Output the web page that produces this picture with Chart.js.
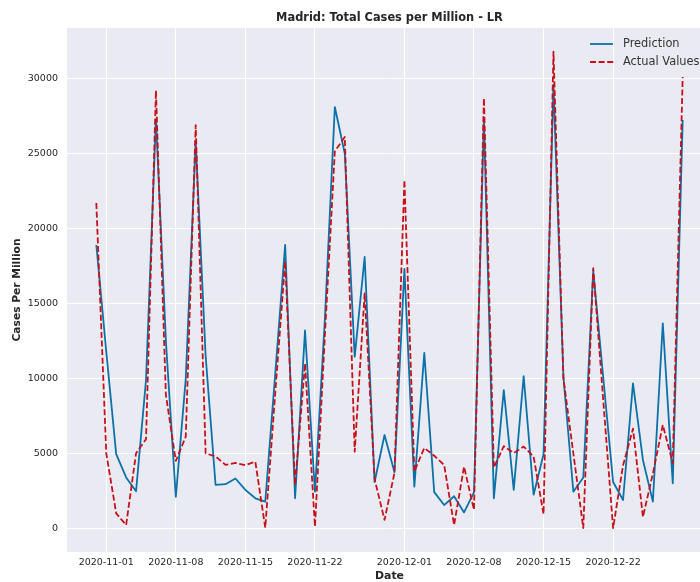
<!DOCTYPE html>
<html>
<head>
<meta charset="utf-8">
<script src="https://cdn.jsdelivr.net/npm/chart.js@4.4.1/dist/chart.umd.min.js"></script>
<style>
  html, body { margin: 0; padding: 0; background: #ffffff; overflow: hidden; width: 700px; height: 582px; }
  #wrap { width: 730px; height: 582px; position: relative; }
  canvas { display: block; }
</style>
</head>
<body>
<div id="wrap"><canvas id="c" width="730" height="582"></canvas></div>
<script>
// ---- data ----
const startDate = '2020-10-31';
const dates = [
  '2020-10-31','2020-11-01','2020-11-02','2020-11-03','2020-11-04','2020-11-05','2020-11-06','2020-11-07','2020-11-08','2020-11-09',
  '2020-11-10','2020-11-11','2020-11-12','2020-11-13','2020-11-14','2020-11-15','2020-11-16','2020-11-17','2020-11-18','2020-11-19',
  '2020-11-20','2020-11-21','2020-11-22','2020-11-23','2020-11-24','2020-11-25','2020-11-26','2020-11-27','2020-11-28','2020-11-29',
  '2020-11-30','2020-12-01','2020-12-02','2020-12-03','2020-12-04','2020-12-05','2020-12-06','2020-12-07','2020-12-08','2020-12-09',
  '2020-12-10','2020-12-11','2020-12-12','2020-12-13','2020-12-14','2020-12-15','2020-12-16','2020-12-17','2020-12-18','2020-12-19',
  '2020-12-20','2020-12-21','2020-12-22','2020-12-23','2020-12-24','2020-12-25','2020-12-26','2020-12-27','2020-12-28','2020-12-29'
];
const prediction = [
  18900, 11800, 4950, 3400, 2480, 9900, 27300, 12500, 2100, 10000,
  25800, 11500, 2900, 2950, 3330, 2570, 2010, 1790, 10300, 18900,
  2010, 13200, 2450, 14000, 28100, 25000, 11450, 18100, 3100, 6230,
  3750, 17300, 2790, 11700, 2420, 1560, 2150, 1070, 2400, 27300,
  2010, 9230, 2570, 10150, 2250, 4950, 29600, 10100, 2450, 3400,
  17200, 10100, 3100, 1900, 9680, 4570, 1790, 13680, 3010, 27230
];
const actual = [
  21700, 5010, 1010, 230, 5020, 5950, 29200, 8900, 4500, 6120,
  26900, 5010, 4800, 4240, 4370, 4220, 4450, 50, 9000, 17800,
  2900, 11000, 130, 12900, 25150, 26100, 5120, 15680, 3300, 570,
  3700, 23230, 3790, 5370, 4850, 4230, 230, 4120, 1250, 28700,
  4060, 5490, 5030, 5460, 4790, 950, 31790, 10000, 5000, 30,
  17350, 8600, 20, 4200, 6650, 770, 3650, 6900, 4370, 30100
];
const xTickLabels = ['2020-11-01','2020-11-08','2020-11-15','2020-11-22','2020-12-01','2020-12-08','2020-12-15','2020-12-22'];
const yTickValues = [0, 5000, 10000, 15000, 20000, 25000, 30000];
const seriesNames = ['Prediction', 'Actual Values'];
const titleText = 'Madrid: Total Cases per Million - LR';
const xAxisTitle = 'Date';
const yAxisTitle = 'Cases Per Million';

// ---- helpers ----
const DAY = 86400000;
const t0 = Date.parse(startDate + 'T00:00:00Z');
const dayIndex = s => Math.round((Date.parse(s + 'T00:00:00Z') - t0) / DAY);
const xTickPos = xTickLabels.map(dayIndex);

const BLUE = '#0a72a8';
const RED = '#c8101a';
const TXT = '#262626';
const FONT = "'DejaVu Sans', 'Liberation Sans', sans-serif";
const LW = 1.8;
const DASH = [6, 2.6];

const overlay = {
  id: 'overlay',
  beforeDraw(chart) {
    const { ctx, chartArea: a } = chart;
    ctx.save();
    ctx.fillStyle = '#ffffff';
    ctx.fillRect(0, 0, chart.width, chart.height);
    ctx.fillStyle = '#eaeaf2';
    ctx.fillRect(a.left, a.top, a.right - a.left, a.bottom - a.top);
    ctx.restore();
  },
  afterDraw(chart) {
    const { ctx, chartArea: a } = chart;
    ctx.save();
    // title
    ctx.fillStyle = TXT;
    ctx.font = "bold 11.4px " + FONT;
    ctx.textAlign = 'center';
    ctx.textBaseline = 'middle';
    ctx.fillText(titleText, (a.left + a.right) / 2, 18);
    // legend
    const lx0 = 590, lx1 = 613, tx = 623;
    const rows = [44, 62];
    ctx.font = "11.4px " + FONT;
    ctx.textAlign = 'left';
    ctx.lineWidth = LW;
    ctx.strokeStyle = BLUE;
    ctx.setLineDash([]);
    ctx.beginPath(); ctx.moveTo(lx0, rows[0]); ctx.lineTo(lx1, rows[0]); ctx.stroke();
    ctx.strokeStyle = RED;
    ctx.setLineDash(DASH);
    ctx.beginPath(); ctx.moveTo(lx0, rows[1]); ctx.lineTo(lx1 + 1, rows[1]); ctx.stroke();
    ctx.setLineDash([]);
    ctx.fillStyle = '#333333';
    ctx.fillText(seriesNames[0], tx, rows[0] + 0.5);
    ctx.fillText(seriesNames[1], tx, rows[1] + 0.5);
    ctx.restore();
  }
};

new Chart(document.getElementById('c'), {
  type: 'line',
  data: {
    datasets: [
      {
        label: seriesNames[0],
        data: dates.map((d, i) => ({ x: dayIndex(d), y: prediction[i] })),
        borderColor: BLUE,
        borderWidth: LW,
        pointRadius: 0,
        tension: 0,
        fill: false,
        borderJoinStyle: 'round',
        order: 1
      },
      {
        label: seriesNames[1],
        data: dates.map((d, i) => ({ x: dayIndex(d), y: actual[i] })),
        borderColor: RED,
        borderWidth: LW,
        borderDash: DASH,
        pointRadius: 0,
        tension: 0,
        fill: false,
        borderJoinStyle: 'round',
        order: 0
      }
    ]
  },
  options: {
    responsive: false,
    animation: false,
    devicePixelRatio: 1,
    layout: { padding: { left: 0, top: 28, right: 18, bottom: 0 } },
    plugins: { legend: { display: false }, tooltip: { enabled: false }, title: { display: false } },
    scales: {
      x: {
        type: 'linear',
        min: -2.95,
        max: 61.95,
        border: { display: false },
        grid: { color: '#ffffff', lineWidth: 1, drawTicks: false },
        afterBuildTicks: s => { s.ticks = xTickPos.map(v => ({ value: v })); },
        afterFit: s => { s.height = 30; },
        ticks: {
          autoSkip: false,
          maxRotation: 0,
          padding: 5,
          color: TXT,
          font: { family: FONT, size: 9.5 },
          callback: (v) => { const k = xTickPos.indexOf(v); return k >= 0 ? xTickLabels[k] : ''; }
        },
        title: {
          display: true, text: xAxisTitle, color: TXT,
          font: { family: FONT, size: 10.9, weight: 'bold', lineHeight: 1 },
          padding: { top: 0, bottom: 0 }
        }
      },
      y: {
        type: 'linear',
        min: -1570,
        max: 33370,
        border: { display: false },
        grid: { color: '#ffffff', lineWidth: 1, drawTicks: false },
        afterBuildTicks: s => { s.ticks = yTickValues.map(v => ({ value: v })); },
        afterFit: s => { s.width = 67; },
        ticks: {
          padding: 9,
          color: TXT,
          font: { family: FONT, size: 9.5 },
          callback: v => String(v)
        },
        title: {
          display: true, text: yAxisTitle, color: TXT,
          font: { family: FONT, size: 10.7, weight: 'bold', lineHeight: 1 },
          padding: { top: 12, bottom: 0 }
        }
      }
    }
  },
  plugins: [overlay]
});
</script>
</body>
</html>
